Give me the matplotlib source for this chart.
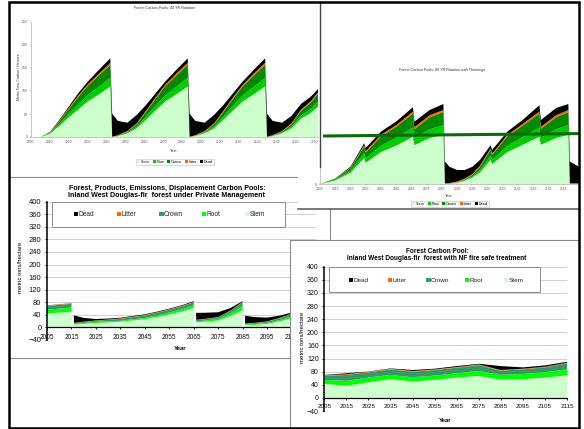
"""Collage of four forest carbon pool charts (stacked areas: stem, root,
crown, litter, dead) laid out as overlapping report panels."""
import matplotlib
matplotlib.use("Agg")
import matplotlib.pyplot as plt
from matplotlib.lines import Line2D
from matplotlib.patches import Patch, Rectangle

W, H = 584, 429

plt.rcParams["font.family"] = ["Liberation Sans", "DejaVu Sans"]

# ----- top-left: ~40 yr rotation -----
tl_years = [2005, 2010, 2015, 2020, 2025, 2030, 2036, 2042,
            2043, 2046, 2051, 2056, 2061, 2066, 2071, 2077, 2083,
            2084, 2087, 2092, 2097, 2102, 2107, 2112, 2118, 2124,
            2125, 2128, 2133, 2138, 2143, 2148, 2152]
tl_stem = [0, 7, 24, 43, 60, 77, 93, 110,
           0, 2, 8, 19, 38, 58, 77, 93, 110,
           0, 2, 8, 19, 38, 58, 77, 93, 110,
           0, 2, 8, 19, 40, 52, 66]
tl_root = [0, 1.5, 4.5, 8, 11, 14, 16, 19,
           0, 0.5, 1.5, 4, 7, 10, 13, 16, 19,
           0, 0.5, 1.5, 4, 7, 10, 13, 16, 19,
           0, 0.5, 1.5, 4, 7, 9, 11]
tl_crown = [0, 1.5, 5, 10, 16, 20, 25, 28,
            0, 0.5, 2, 5, 10, 15, 20, 25, 28,
            0, 0.5, 2, 5, 10, 15, 20, 25, 28,
            0, 0.5, 2, 5, 10, 13, 17]
tl_litter = [0, 0.5, 1.5, 2, 3, 3, 4, 4,
             0.5, 1, 1.5, 2, 2.5, 3, 3, 4, 4,
             0.5, 1, 1.5, 2, 2.5, 3, 3, 4, 4,
             0.5, 1, 1.5, 2, 2.5, 3, 3]
tl_dead = [0, 0.5, 2, 3, 5, 6, 8, 10,
           50, 31, 18, 18, 12.5, 9, 7, 8, 10,
           50, 31, 18, 18, 12.5, 9, 7, 8, 10,
           50, 31, 18, 16, 12.5, 10, 7]

# ----- top-right: ~80 yr rotation with two thinnings -----
tr_years = [2005, 2015, 2025, 2034, 2035, 2045, 2055, 2066, 2067, 2077,
            2086, 2087, 2090, 2095, 2100, 2105, 2110, 2117, 2118, 2128,
            2138, 2149, 2150, 2160, 2168, 2169, 2175]
tr_stem = [0, 9, 28, 65, 53, 80, 96, 118, 97, 115,
           123, 0, 0.5, 3, 8, 16, 29, 60, 50, 80,
           98, 118, 98, 115, 123, 0, 0]
tr_root = [0, 2, 5, 12, 11, 16, 19, 23, 18, 22,
           24, 0, 0, 0.5, 1.5, 3, 6, 11, 10, 16,
           19, 23, 18, 22, 24, 0, 0]
tr_crown = [0, 2, 6, 17, 15, 23, 28, 35, 22, 30,
            33, 0, 0, 0.5, 2, 4, 8, 15, 13, 23,
            29, 35, 22, 30, 33, 0, 0]
tr_litter = [0, 0.5, 1.5, 3, 3, 4, 4, 5, 5, 5,
             5, 2, 2, 2, 2, 2, 3, 3, 3, 4,
             4, 5, 5, 5, 5, 2, 2]
tr_dead = [0, 0.5, 2.5, 5, 8, 8, 9, 11, 14, 13,
           15, 54, 40.5, 29, 21.5, 18, 14, 8, 9, 8,
           10, 16, 17, 18, 15, 54, 41]
tr_avg_years = [2007, 2175]
tr_avg = [120, 126]

# ----- middle-left: private management (harvests break the series) -----
ml_years = [2005, 2010, 2015,
            2016, 2020, 2025, 2030, 2035, 2040, 2045, 2050, 2055, 2060, 2065,
            2066, 2070, 2075, 2080, 2085,
            2086, 2090, 2095, 2100, 2105, 2110, 2115]
ml_harvest = [2015, 2065, 2085]
ml_stem = [44, 47, 50,
           9, 11, 14, 16, 18, 22, 26, 33, 41, 50, 62,
           16, 18, 22, 36, 55,
           7, 8, 11, 19, 29, 38, 48]
ml_root = [12, 12.5, 13,
           2, 3, 3.5, 3, 3, 3.5, 4, 5, 6, 7, 8,
           3, 4, 5, 8, 13,
           2, 2.5, 3, 4, 5, 6, 7]
ml_crown = [12, 12, 12,
            2, 3, 3.5, 5, 6, 7, 8, 8.5, 9, 9.5, 10,
            4, 4.5, 5, 8, 12,
            2, 3, 4, 6, 8, 9, 10]
ml_litter = [1.5, 1.5, 1.5,
             1, 1, 1, 1, 1.5, 1.5, 1.5, 1.5, 1.5, 1.5, 1.5,
             1, 1, 1, 1.5, 1.5,
             1, 1, 1, 1, 1.5, 1.5, 1.5]
ml_dead = [0.5, 0.5, 0.5,
           24, 12, 4.5, 3, 2, 2, 2, 2, 2, 2, 2,
           22, 19, 15, 8, 2,
           25, 18, 12, 7, 3.5, 3, 2.5]

# ----- bottom-right: NF fire safe treatment -----
br_years = [2005, 2015, 2025, 2035, 2045, 2055, 2065, 2075, 2085, 2095, 2105, 2115]
br_stem = [43, 37, 48, 57, 50, 55, 62, 67, 55, 57, 62, 69]
br_root = [12, 15, 14, 13, 13, 13, 13, 15, 15, 16, 16, 18]
br_crown = [12, 18, 16, 17, 17, 17, 17, 18, 13, 14, 15, 18]
br_litter = [2, 2, 2, 2, 2, 2, 2, 2, 2, 2, 2, 2]
br_dead = [1, 3, 0.5, 1, 3, 2, 3, 2, 12, 4, 4, 3]

POOLS = ["Stem", "Root", "Crown", "Litter", "Dead"]
SMALL_COLORS = ["#ccffcc", "#00cc00", "#008a00", "#ff6600", "#000000"]
BIG_COLORS = ["#ccffcc", "#00ff00", "#339966", "#ff6600", "#000000"]


def fx(x):
    return x / W


def fy(y):
    return 1 - y / H


def add_axes(fig, x0, y0, x1, y1, z):
    """Axes placed by pixel box (top-left origin)."""
    ax = fig.add_axes([fx(x0), fy(y1), (x1 - x0) / W, (y1 - y0) / H])
    ax.set_zorder(z)
    ax.patch.set_alpha(0)
    return ax


def add_panel(fig, box, z, edges, color="#8c8c8c", lw=0.8):
    x0, y0, x1, y1 = box
    fig.add_artist(Rectangle((fx(x0), fy(y1)), (x1 - x0) / W, (y1 - y0) / H,
                             transform=fig.transFigure, facecolor="white",
                             edgecolor="none", zorder=z))
    for xa, ya, xb, yb in edges:
        fig.add_artist(Line2D([fx(xa), fx(xb)], [fy(ya), fy(yb)],
                              transform=fig.transFigure, color=color, lw=lw,
                              zorder=z + 0.01))


def put_text(ax, x, y, s, **kw):
    kw.setdefault("ha", "center")
    kw.setdefault("va", "center")
    ax.text(fx(x), fy(y), s, transform=ax.figure.transFigure, **kw)


def style_small(ax, xlim, ylim, xticks, yticks):
    ax.set_xlim(*xlim)
    ax.set_ylim(*ylim)
    ax.set_xticks(xticks)
    ax.set_yticks(yticks)
    ax.tick_params(labelsize=2.4, length=1, width=0.3, pad=1.5, colors="#555555")
    for side in ("top", "right"):
        ax.spines[side].set_visible(False)
    for side in ("left", "bottom"):
        ax.spines[side].set_color("#b0b0b0")
        ax.spines[side].set_linewidth(0.5)


def small_legend(ax, x, y):
    handles = [Patch(facecolor=c, edgecolor="none") for c in SMALL_COLORS]
    leg = ax.legend(handles, POOLS, ncol=5, loc="center",
                    bbox_to_anchor=(fx(x), fy(y)),
                    bbox_transform=ax.figure.transFigure, fontsize=2.7,
                    fancybox=False, edgecolor="#aaaaaa", handlelength=0.8,
                    handleheight=0.9, handletextpad=0.3, columnspacing=0.7,
                    borderpad=0.35)
    leg.get_frame().set_linewidth(0.4)


def style_big(ax, xlim, xticks, xfs, yfs):
    ax.set_xlim(*xlim)
    ax.set_ylim(-40, 400)
    ax.set_xticks(xticks)
    ax.set_yticks(range(-40, 401, 40))
    ax.yaxis.grid(True, color="#c8c8c8", lw=0.6)
    ax.set_axisbelow(True)
    for side in ("top", "right"):
        ax.spines[side].set_visible(False)
    ax.spines["bottom"].set_position(("data", 0))
    ax.spines["bottom"].set_linewidth(0.9)
    ax.spines["left"].set_linewidth(1.1)
    ax.tick_params(axis="x", labelsize=xfs, length=1.5, width=0.6, pad=3)
    ax.tick_params(axis="y", labelsize=yfs, length=1.5, width=0.6, pad=2.5)
    for lab in ax.get_xticklabels() + ax.get_yticklabels():
        lab.set_color("#111111")


def big_legend(ax, box, first_x, pitch, y, fs):
    x0, y0, x1, y1 = box
    ax.add_artist(Rectangle((fx(x0), fy(y1)), (x1 - x0) / W, (y1 - y0) / H,
                            transform=ax.figure.transFigure, facecolor="white",
                            edgecolor="#8c8c8c", lw=0.7, zorder=4, clip_on=False))
    order = [4, 3, 2, 1, 0]
    for i, k in enumerate(order):
        x = first_x + i * pitch
        ax.add_artist(Rectangle((fx(x - 2.2), fy(y + 2.2)), 4.4 / W, 4.4 / H,
                                transform=ax.figure.transFigure,
                                facecolor=BIG_COLORS[k], edgecolor="none",
                                zorder=5, clip_on=False))
        put_text(ax, x + 2.6, y, POOLS[k], ha="left", fontsize=fs,
                 color="#222222", zorder=5)


def main():
    fig = plt.figure(figsize=(W / 100, H / 100), dpi=100)

    # middle-left panel sits at the back
    add_panel(fig, (10, 177, 330, 358), 1,
              [(10, 177, 330, 177), (330, 177, 330, 358), (10, 358, 330, 358)])
    ax = add_axes(fig, 47, 201.7, 316, 339.9, 1.5)
    layers = [ml_stem, ml_root, ml_crown, ml_litter, ml_dead]
    start = 0
    for i, yr in enumerate(ml_years):
        if yr in ml_harvest or i == len(ml_years) - 1:
            ax.stackplot(ml_years[start:i + 1],
                         *[lay[start:i + 1] for lay in layers],
                         colors=BIG_COLORS, lw=0)
            start = i + 1
    # the 2115 label falls under the bottom-right panel, so it is left off
    style_big(ax, (2005, 2115), range(2005, 2106, 10), 4.7, 5.5)
    big_legend(ax, (52, 202, 285, 227), 76, 42.75, 214, 4.8)
    put_text(ax, 167, 188.3,
             "Forest, Products, Emissions, Displacement Carbon Pools:",
             fontsize=5.1, fontweight="bold")
    put_text(ax, 167, 195,
             "Inland West Douglas-fir  forest under Private Management",
             fontsize=5.1, fontweight="bold")
    put_text(ax, 180, 348, "Year", fontsize=4.3, fontweight="bold")
    put_text(ax, 21, 267, "metric tons/hectare", fontsize=4.3, rotation=90)

    # top-right panel
    add_panel(fig, (298, 2, 579, 209), 2, [(298, 209, 579, 209)],
              color="#555555", lw=1.1)
    ax = add_axes(fig, 320, 84, 579, 184, 2.5)
    ax.stackplot(tr_years, tr_stem, tr_root, tr_crown, tr_litter, tr_dead,
                 colors=SMALL_COLORS, lw=0)
    ax.plot(tr_avg_years, tr_avg, color="#0b6b0b", lw=2.2, solid_capstyle="butt")
    # only the zero label shows below the top-left panel
    style_small(ax, (2005, 2175), (0, 250), range(2005, 2166, 10), [0])
    put_text(ax, 442, 70, "Forest Carbon Pools: 80 YR Rotation with Thinnings",
             fontsize=2.7, color="#333333")
    put_text(ax, 449, 196, "Year", fontsize=2.8, color="#333333")
    small_legend(ax, 450, 204)

    # top-left panel
    add_panel(fig, (10, 2, 320, 167), 3, [(320, 2, 320, 167)],
              color="#444444", lw=1.0)
    ax = add_axes(fig, 31, 22, 318, 137, 3.5)
    ax.stackplot(tl_years, tl_stem, tl_root, tl_crown, tl_litter, tl_dead,
                 colors=SMALL_COLORS, lw=0)
    style_small(ax, (2000, 2152), (0, 250), range(2000, 2151, 10),
                range(0, 251, 50))
    put_text(ax, 165, 8, "Forest Carbon Pools: 40 YR Rotation",
             fontsize=2.7, color="#333333")
    put_text(ax, 174, 151, "Year", fontsize=2.8, color="#333333")
    put_text(ax, 19, 77, "Metric Tons Carbon / Hectare", fontsize=2.6,
             rotation=90, color="#333333")
    small_legend(ax, 175, 162)

    # bottom-right panel on top
    add_panel(fig, (290, 240, 579, 428), 4,
              [(290, 240, 579, 240), (290, 240, 290, 428)])
    ax = add_axes(fig, 324.3, 266.7, 567, 411, 4.5)
    ax.stackplot(br_years, br_stem, br_root, br_crown, br_litter, br_dead,
                 colors=BIG_COLORS, lw=0)
    style_big(ax, (2005, 2115), range(2005, 2116, 10), 4.5, 5.0)
    big_legend(ax, (329, 267, 540, 292), 351, 38.75, 280, 4.6)
    put_text(ax, 437, 251.7, "Forest Carbon Pool:", fontsize=4.7,
             fontweight="bold")
    put_text(ax, 437, 259,
             "Inland West Douglas-fir  forest with NF fire safe treatment",
             fontsize=4.7, fontweight="bold")
    put_text(ax, 445, 420, "Year", fontsize=4.3, fontweight="bold")
    put_text(ax, 302, 337, "metric tons/hectare", fontsize=4.3, rotation=90)

    # outer black frame
    fig.add_artist(Rectangle((fx(9), fy(428)), 570 / W, 426 / H,
                             transform=fig.transFigure, facecolor="none",
                             edgecolor="black", lw=1.8, zorder=10))

    fig.savefig("out.png", dpi=100)
    plt.close(fig)
    return 0


if __name__ == "__main__":
    raise SystemExit(main())
